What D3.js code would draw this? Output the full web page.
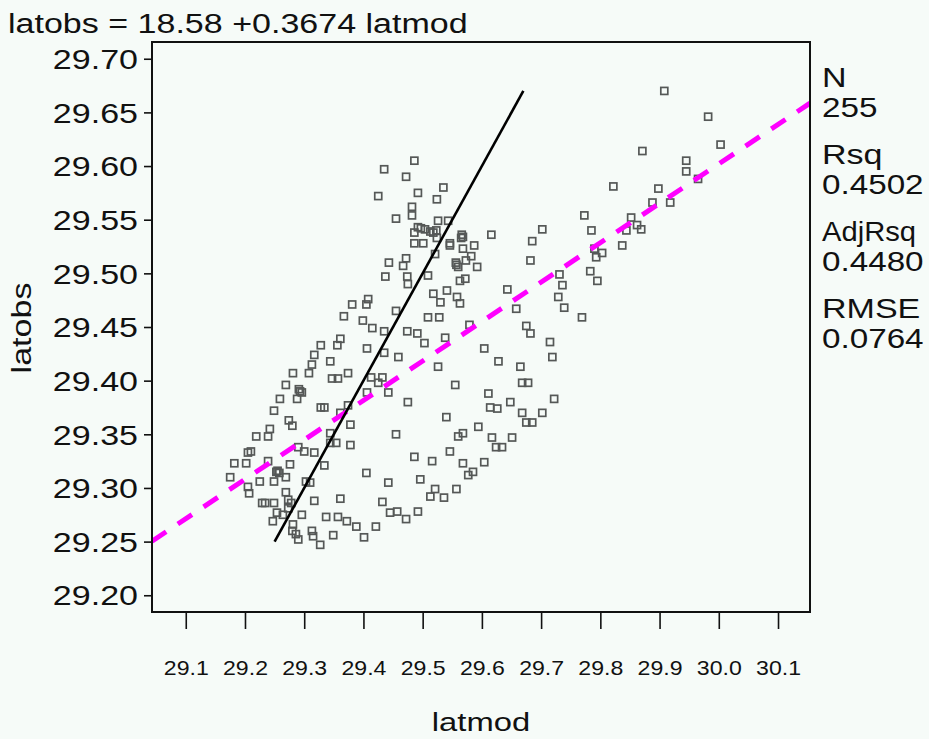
<!DOCTYPE html>
<html>
<head>
<meta charset="utf-8">
<script src="https://cdn.jsdelivr.net/npm/d3@7"></script>
<style>
  body { margin: 0; background: #f6fbf8; }
  text { font-family: "Liberation Sans", Arial, sans-serif; fill: #111; }
</style>
</head>
<body>
<svg id="chart" width="929" height="739"></svg>
<script>
// values
const latmod = [
  29.361, 29.328, 29.356, 29.317, 29.344, 29.313, 29.281, 29.308, 29.374, 29.347,
  29.357, 29.269, 29.293, 29.296, 29.288, 29.259, 29.328, 29.334, 29.374, 29.361,
  29.249, 29.274, 29.280, 29.378, 29.242, 29.219, 29.239, 29.344, 29.344, 29.354,
  29.378, 29.290, 29.300, 29.210, 29.205, 29.317, 29.239, 29.182, 29.202, 29.276,
  29.334, 29.253, 29.258, 29.269, 29.175, 29.225, 29.249, 29.303, 29.310, 29.205,
  29.207, 29.269, 29.273, 29.317, 29.361, 29.229, 29.234, 29.249, 29.278, 29.273,
  29.254, 29.264, 29.296, 29.337, 29.357, 29.372, 29.247, 29.281, 29.388, 29.280,
  29.313, 29.286, 29.315, 29.349, 29.290, 29.327,
  29.486, 29.435, 29.472, 29.535, 29.492, 29.425, 29.524, 29.482, 29.482, 29.455,
  29.526, 29.543, 29.492, 29.504, 29.513, 29.523, 29.486, 29.524, 29.568, 29.565,
  29.616, 29.486, 29.501, 29.546, 29.546, 29.587, 29.568, 29.521, 29.582, 29.472,
  29.573, 29.443, 29.467, 29.557, 29.560, 29.592, 29.437, 29.474, 29.475, 29.509,
  29.572, 29.563, 29.541, 29.518, 29.558, 29.563, 29.530, 29.643, 29.408, 29.405,
  29.381, 29.455, 29.509, 29.528, 29.399, 29.415, 29.579, 29.435, 29.474, 29.491,
  29.538, 29.367,
  29.503, 29.406, 29.435, 29.459, 29.526, 29.413, 29.432, 29.425, 29.406, 29.442,
  29.555, 29.475, 29.540, 29.568, 29.560, 29.455, 29.546, 29.486, 29.516, 29.568,
  29.405, 29.496, 29.442, 29.521, 29.557, 29.513, 29.536, 29.432, 29.445, 29.457,
  29.492, 29.472, 29.421, 29.401,
  29.682, 29.715, 29.604, 29.719, 29.628, 29.665, 29.668, 29.678, 29.611, 29.722,
  29.648, 29.614, 29.626, 29.668, 29.702, 29.675, 29.685, 29.594, 29.617, 29.651,
  29.624, 29.634, 29.604, 29.585, 29.577,
  29.822, 29.773, 29.852, 29.702, 29.785, 29.844, 29.685, 29.837, 29.790, 29.803,
  29.793, 29.682, 29.783, 29.731, 29.795, 29.736, 29.729, 29.658, 29.739, 29.769,
  29.675,
  29.908, 29.982, 30.003, 29.871, 29.945, 29.945, 29.965, 29.898, 29.888, 29.918,
  29.862, 29.869,
  29.497, 29.518, 29.291, 29.556, 29.566, 29.255
];
const latobs = [
  29.439, 29.433, 29.433, 29.424, 29.418, 29.415, 29.407, 29.407, 29.407, 29.402,
  29.402, 29.396, 29.390, 29.389, 29.383, 29.383, 29.375, 29.375, 29.377, 29.370,
  29.372, 29.363, 29.358, 29.359, 29.355, 29.348, 29.348, 29.351, 29.342, 29.342,
  29.340, 29.338, 29.334, 29.334, 29.333, 29.333, 29.325, 29.323, 29.323, 29.322,
  29.321, 29.315, 29.314, 29.310, 29.310, 29.306, 29.306, 29.306, 29.305, 29.301,
  29.295, 29.296, 29.289, 29.288, 29.290, 29.286, 29.286, 29.286, 29.286, 29.281,
  29.277, 29.275, 29.275, 29.273, 29.273, 29.269, 29.269, 29.266, 29.264, 29.260,
  29.260, 29.257, 29.255, 29.256, 29.252, 29.247,
  29.605, 29.597, 29.590, 29.580, 29.575, 29.572, 29.569, 29.562, 29.554, 29.551,
  29.549, 29.549, 29.543, 29.541, 29.539, 29.540, 29.538, 29.533, 29.534, 29.533,
  29.536, 29.528, 29.528, 29.528, 29.526, 29.526, 29.523, 29.518, 29.516, 29.514,
  29.512, 29.510, 29.507, 29.508, 29.506, 29.506, 29.497, 29.497, 29.490, 29.498,
  29.495, 29.493, 29.484, 29.481, 29.478, 29.472, 29.473, 29.485, 29.476, 29.471,
  29.471, 29.465, 29.459, 29.459, 29.456, 29.449, 29.452, 29.446, 29.446, 29.444,
  29.440, 29.460,
  29.435, 29.430, 29.426, 29.422, 29.413, 29.403, 29.403, 29.398, 29.389, 29.389,
  29.396, 29.380, 29.366, 29.351, 29.348, 29.350, 29.334, 29.329, 29.325, 29.323,
  29.314, 29.308, 29.305, 29.299, 29.299, 29.292, 29.291, 29.287, 29.277, 29.278,
  29.278, 29.271, 29.264, 29.254,
  29.444, 29.436, 29.430, 29.422, 29.418, 29.413, 29.398, 29.398, 29.388, 29.383,
  29.380, 29.375, 29.374, 29.370, 29.370, 29.361, 29.361, 29.357, 29.347, 29.347,
  29.338, 29.338, 29.324, 29.315, 29.312,
  29.581, 29.554, 29.552, 29.541, 29.540, 29.540, 29.530, 29.526, 29.523, 29.519,
  29.515, 29.512, 29.502, 29.499, 29.493, 29.489, 29.478, 29.467, 29.468, 29.459,
  29.451,
  29.670, 29.646, 29.620, 29.614, 29.605, 29.595, 29.588, 29.579, 29.566, 29.566,
  29.545, 29.541,
  29.542, 29.538, 29.392, 29.510, 29.536, 29.316
];

const xTicks = [29.1, 29.2, 29.3, 29.4, 29.5, 29.6, 29.7, 29.8, 29.9, 30.0, 30.1];
const yTicks = [29.20, 29.25, 29.30, 29.35, 29.40, 29.45, 29.50, 29.55, 29.60, 29.65, 29.70];

// fit shown in the title, and the 45 degree reference line
const intercept = 18.58, slope = 0.3674;
const refLine = [29.25, 29.67];

const statLabels = ["N", "Rsq", "AdjRsq", "RMSE"];
const statValues = ["255", "0.4502", "0.4480", "0.0764"];

const svg = d3.select("#chart");
const frame = {left: 152, right: 810, top: 42, bottom: 612};

const x = d3.scaleLinear().domain([29.043, 30.154]).range([frame.left, frame.right]);
const y = d3.scaleLinear().domain([29.1844, 29.7156]).range([frame.bottom, frame.top]);

svg.append("defs").append("clipPath").attr("id", "clip")
    .append("rect")
    .attr("x", frame.left).attr("y", frame.top)
    .attr("width", frame.right - frame.left).attr("height", frame.bottom - frame.top);

// points
const pts = latmod.map((d, i) => ({mod: d, obs: latobs[i]}));
svg.append("g")
    .selectAll("rect")
    .data(pts)
    .enter()
    .append("rect")
    .attr("x", d => x(d.mod) - 3.5)
    .attr("y", d => y(d.obs) - 3.5)
    .attr("width", 7)
    .attr("height", 7)
    .attr("fill", "none")
    .attr("stroke", "#555857")
    .attr("stroke-width", 1.7);

// regression line (dashed magenta)
const xd = x.domain();
svg.append("path")
    .datum(xd.map(v => ({mod: v, obs: intercept + slope * v})))
    .attr("clip-path", "url(#clip)")
    .attr("fill", "none")
    .attr("stroke", "#ff00ff")
    .attr("stroke-width", 5)
    .attr("stroke-dasharray", "17,14")
    .attr("d", d3.line().x(d => x(d.mod)).y(d => y(d.obs)));

// y = x line
svg.append("path")
    .datum(refLine)
    .attr("fill", "none")
    .attr("stroke", "#000")
    .attr("stroke-width", 2.6)
    .attr("d", d3.line().x(d => x(d)).y(d => y(d)));

// frame
svg.append("rect")
    .attr("x", frame.left).attr("y", frame.top)
    .attr("width", frame.right - frame.left).attr("height", frame.bottom - frame.top)
    .attr("fill", "none")
    .attr("stroke", "#111")
    .attr("stroke-width", 2);

// y axis
const yAxis = svg.append("g")
    .attr("transform", `translate(${frame.left},0)`)
    .call(d3.axisLeft(y).tickValues(yTicks).tickSize(8).tickFormat(d3.format(".2f")));
yAxis.select(".domain").remove();
yAxis.selectAll(".tick line").attr("stroke", "#111").attr("stroke-width", 1.6);
yAxis.selectAll(".tick text")
    .attr("class", "stretch")
    .attr("x", -14)
    .attr("dy", "0.36em")
    .style("font-size", "27px")
    .style("font-family", "Liberation Sans, Arial, sans-serif")
    .attr("fill", "#111");

// x axis
const xAxis = svg.append("g")
    .attr("transform", `translate(0,${frame.bottom})`)
    .call(d3.axisBottom(x).tickValues(xTicks).tickSize(17).tickFormat(d3.format(".1f")));
xAxis.select(".domain").remove();
xAxis.selectAll(".tick line").attr("stroke", "#111").attr("stroke-width", 1.6);
xAxis.selectAll(".tick text")
    .attr("class", "stretch-x")
    .attr("y", 55)
    .attr("dy", "0.36em")
    .style("font-size", "21px")
    .style("font-family", "Liberation Sans, Arial, sans-serif")
    .attr("fill", "#111");

// title and axis labels
svg.append("text")
    .attr("class", "stretch")
    .attr("x", 8).attr("y", 33)
    .style("font-size", "27px")
    .text(`latobs = ${intercept} +${slope} latmod`);

svg.append("text")
    .attr("class", "stretch")
    .attr("x", 481).attr("y", 731)
    .attr("text-anchor", "middle")
    .style("font-size", "26px")
    .text("latmod");

svg.append("text")
    .attr("class", "stretch")
    .attr("transform", "translate(31,328) rotate(-90)")
    .attr("text-anchor", "middle")
    .style("font-size", "27px")
    .text("latobs");

// fit statistics on the right
statLabels.forEach((s, i) => {
    svg.append("text")
        .attr("class", s === "AdjRsq" ? "stretch-narrow" : "stretch")
        .attr("x", 822).attr("y", 87 + i * 77)
        .style("font-size", "27px")
        .text(s);
    svg.append("text")
        .attr("class", "stretch-stat")
        .attr("x", 822).attr("y", 117 + i * 77)
        .style("font-size", "27px")
        .text(statValues[i]);
});

// the SAS font is wider than Liberation Sans, so widen every label
function widen(sel, k) {
    sel.each(function() {
        const w = this.getComputedTextLength();
        d3.select(this)
            .attr("textLength", w * k)
            .attr("lengthAdjust", "spacingAndGlyphs");
    });
}
widen(svg.selectAll("text.stretch"), 1.26);
widen(svg.selectAll("text.stretch-stat"), 1.23);
widen(svg.selectAll("text.stretch-narrow"), 1.08);
widen(svg.selectAll("text.stretch-x"), 1.1);
</script>
</body>
</html>
